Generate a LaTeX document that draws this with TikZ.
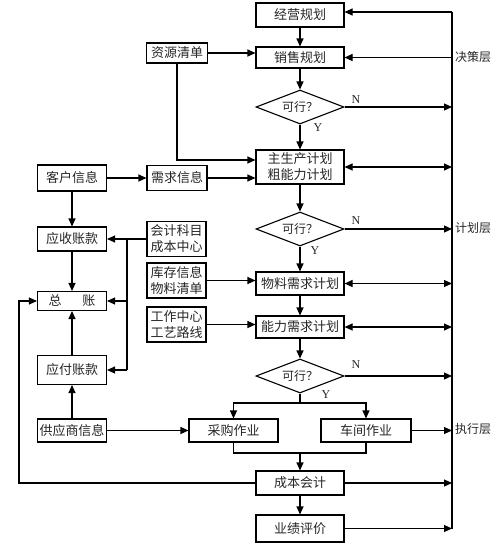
\documentclass[tikz,border=0pt]{standalone}
\usepackage{fontspec}
\setmainfont{Noto Sans CJK SC}
\newfontfamily\lat{Liberation Serif}
\usetikzlibrary{arrows.meta,shapes.geometric,calc}
\begin{document}
\begin{tikzpicture}[x=1pt,y=-1pt,
  box/.style={draw, line width=1.1pt, inner sep=0pt, minimum width=88pt, minimum height=24pt,
    font=\fontsize{13}{16}\selectfont, text=black!85, align=center},
  dia/.style={draw, diamond, shape aspect=2.6, line width=1.1pt, inner sep=0pt,
    minimum width=88pt, minimum height=34pt, font=\fontsize{12}{14}\selectfont, text=black!85},
  ar/.style={-{Triangle[length=8pt,width=7pt]}, line width=1.1pt},
  arr/.style={{Triangle[length=8pt,width=7pt]}-{Triangle[length=8pt,width=7pt]}, line width=1.1pt},
  ln/.style={line width=1.1pt},
  lab/.style={font=\fontsize{12}{14}\selectfont, text=black!85, anchor=west, inner sep=0pt},
  yn/.style={font=\lat\fontsize{12}{14}\selectfont, text=black!85, inner sep=0pt}
]
\useasboundingbox (0,0) rectangle (500,547);

% main column
\node[box] (jy) at (300,15) {经营规划};
\node[box, minimum height=21pt] (xs) at (300,57.5) {销售规划};
\node[dia] (d1) at (300,107) {可行？};
\node[box, minimum height=34pt] (zsc) at (300,167) {主生产计划\\粗能力计划};
\node[dia] (d2) at (300,229) {可行？};
\node[box, minimum height=23pt] (wl) at (300,283.5) {物料需求计划};
\node[box, minimum height=22pt] (nl) at (300,327) {能力需求计划};
\node[dia] (d3) at (300,376) {可行？};
\node[box, minimum width=89pt, minimum height=23pt] (cg) at (233.5,430.5) {采购作业};
\node[box, minimum width=90pt, minimum height=23pt] (cj) at (366,430.5) {车间作业};
\node[box] (cb) at (300,483) {成本会计};
\node[box, minimum height=27pt] (yj) at (300,528.5) {业绩评价};

% middle column
\node[box, minimum width=61pt, minimum height=20pt] (zy) at (177,53) {资源清单};
\node[box, minimum width=60pt, minimum height=25pt] (xq) at (177,178) {需求信息};
\node[box, minimum width=59pt, minimum height=35pt] (kj) at (176.5,239) {会计科目\\成本中心};
\node[box, minimum width=59pt, minimum height=35pt] (kc) at (176.5,280.5) {库存信息\\物料清单};
\node[box, minimum width=59pt, minimum height=35pt] (gz) at (176.5,324.5) {工作中心\\工艺路线};

% left column
\node[box, minimum width=69pt, minimum height=26pt] (kh) at (72,178) {客户信息};
\node[box, minimum width=69pt, minimum height=24pt] (ys) at (72,239) {应收账款};
\node[box, minimum width=69pt, minimum height=19pt] (zz) at (72,301) {总\hspace{1.6em}账};
\node[box, minimum width=69pt, minimum height=29pt] (yf) at (72,370) {应付账款};
\node[box, minimum width=69pt, minimum height=23pt] (gy) at (72,430.5) {供应商信息};

% bus coordinates
\coordinate (bus) at (452,0);
\coordinate (btop) at (452,12);
\coordinate (bbot) at (452,528.5);
\coordinate (acc) at (127,0);
\coordinate (lft) at (19,0);
\coordinate (zyc) at (177,160);
\coordinate (br) at (300,403);
\coordinate (jn) at (300,453);

% labels
\node[lab] (l1) at (455,57) {决策层};
\node[lab] (l2) at (455,228) {计划层};
\node[lab] (l3) at (455,429) {执行层};
\node[yn] (n1) at (356,100) {N};
\node[yn] (y1) at (318,128) {Y};
\node[yn] (n2) at (356,221) {N};
\node[yn] (y2) at (315,251) {Y};
\node[yn] (n3) at (356,365) {N};
\node[yn] (y3) at (326,395) {Y};

% main vertical arrows
\draw[ar] (jy) -- (xs);
\draw[ar] (xs) -- (d1);
\draw[ar] (d1) -- (zsc);
\draw[ar] (zsc) -- (d2);
\draw[ar] (d2) -- (wl);
\draw[ar] (wl) -- (nl);
\draw[ar] (nl) -- (d3);
\draw[ar] (cb) -- (yj);

% branch to jobs
\draw[ln] (d3.south) -- (br);
\draw[ar] (br) -| (cg.north);
\draw[ar] (br) -| (cj.north);
\draw[ln] (cg.south) |- (jn) -| (cj.south);
\draw[ar] (jn) -- (cb.north);

% right bus
\draw[ln] (bbot) -- (btop);
\draw[ar] (btop) -- (btop -| jy.east);
\draw[ar] (xs.east -| bus) -- (xs.east);
\draw[ar] (d1.east) -- (d1.east -| bus);
\draw[arr] (zsc.east) -- (zsc.east -| bus);
\draw[ar] (d2.east) -- (d2.east -| bus);
\draw[arr] (wl.east) -- (wl.east -| bus);
\draw[arr] (nl.east) -- (nl.east -| bus);
\draw[ar] (d3.east) -- (d3.east -| bus);
\draw[ar] (cj.east) -- (cj.east -| bus);
\draw[ar] (cb.east) -- (cb.east -| bus);
\draw[ar] (yj.east) -- (yj.east -| bus);

% inputs from middle column
\draw[ar] (zy.east) -- (zy.east -| xs.west);
\draw[ar] (zy.south) -- (zyc) -- (zyc -| zsc.west);
\draw[ar] (xq.east) -- (xq.east -| zsc.west);
\draw[ar] (kc.east) -- (kc.east -| wl.west);
\draw[ar] (gz.east) -- (gz.east -| nl.west);
\draw[ar] (kh.east) -- (xq.west);

% accounting bus
\draw[ln] (kj.west) -- (kj.west -| acc) -- (yf.east -| acc);
\draw[ar] (kj.west -| acc) -- (ys.east);
\draw[ar] (zz.east -| acc) -- (zz.east);
\draw[ar] (yf.east -| acc) -- (yf.east);

% left column arrows
\draw[ar] (kh) -- (ys);
\draw[ar] (ys) -- (zz);
\draw[ar] (yf) -- (zz);
\draw[ar] (gy) -- (yf);
\draw[ar] (gy) -- (cg);

% cost accounting loop back to general ledger
\draw[ar] (cb.west) -- (cb.west -| lft) -- (zz.west -| lft) -- (zz.west);
\end{tikzpicture}
\end{document}
